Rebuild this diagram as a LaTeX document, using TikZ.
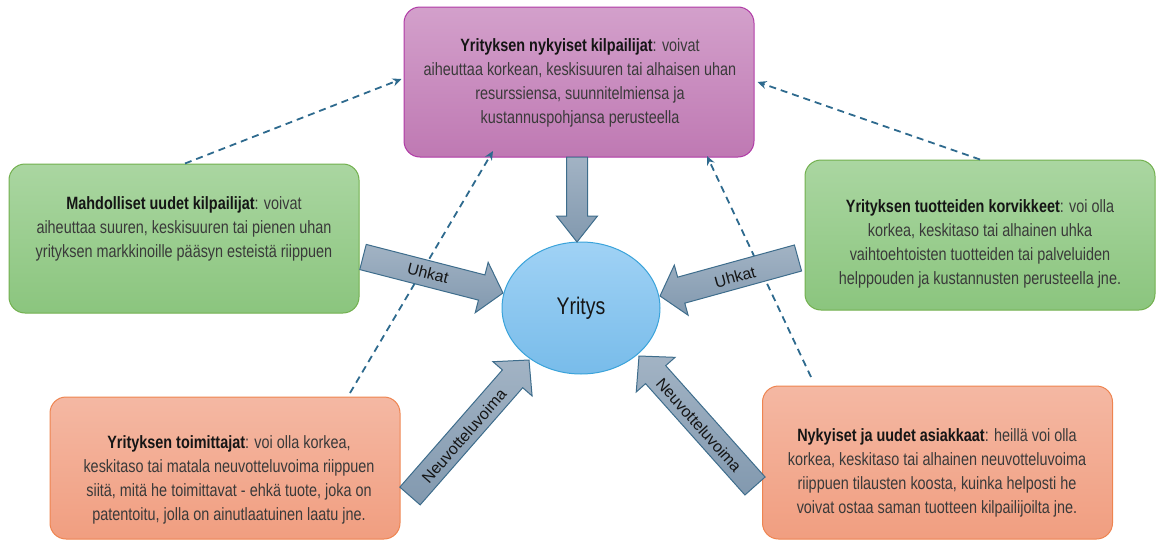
\documentclass[tikz,border=0pt]{standalone}
\usepackage{fontspec}
\setmainfont{Liberation Sans}[FakeStretch=0.81]
\newfontfamily\arrowfont{Liberation Sans}
\usetikzlibrary{calc,shapes.geometric,arrows.meta}
\definecolor{gTop}{HTML}{AAD6A1}
\definecolor{gBot}{HTML}{8BC57E}
\definecolor{gLine}{HTML}{72B04E}
\definecolor{oTop}{HTML}{F4B8A3}
\definecolor{oBot}{HTML}{F19E80}
\definecolor{oLine}{HTML}{EE8450}
\definecolor{pTop}{HTML}{D3A0CB}
\definecolor{pBot}{HTML}{BF79B3}
\definecolor{pLine}{HTML}{B03AA6}
\definecolor{eTop}{HTML}{A0D2F5}
\definecolor{eBot}{HTML}{78BCEA}
\definecolor{eLine}{HTML}{3AA3DA}
\definecolor{aTop}{HTML}{A2B3C4}
\definecolor{aBot}{HTML}{8299AF}
\definecolor{aLine}{HTML}{3E6D8C}
\definecolor{dLine}{HTML}{2E6A8E}
\definecolor{txtGray}{HTML}{3A3A3A}
\definecolor{txtDark}{HTML}{151515}
\newcommand\blockarr[5]{%
  \path[barrow] let \p1=(#1), \p2=(#2), \n1={atan2(\y2-\y1,\x2-\x1)}, \n2={veclen(\x2-\x1,\y2-\y1)} in
    [shift={(\p1)}, rotate=\n1]
    (0,-#3/2) -- ({\n2-#5},-#3/2) -- ({\n2-#5},-#4/2) -- ({\n2},0) -- ({\n2-#5},#4/2) -- ({\n2-#5},#3/2) -- (0,#3/2) -- cycle;}
\begin{document}
\begin{tikzpicture}[x=1pt,y=-1pt,
  box/.style={line width=1pt, rounded corners=16pt, minimum width=350pt, inner sep=0pt},
  gbox/.style={box, draw=gLine, top color=gTop, bottom color=gBot},
  obox/.style={box, draw=oLine, top color=oTop, bottom color=oBot},
  pbox/.style={box, draw=pLine, top color=pTop, bottom color=pBot},
  txt/.style={align=center, text=txtGray, font=\fontsize{17.8}{24}\selectfont, inner sep=0pt},
  barrow/.style={draw=aLine, line width=1pt, top color=aTop, bottom color=aBot},
  alab/.style={font=\arrowfont\fontsize{16}{18}\selectfont, text=txtDark, inner sep=0pt},
  darr/.style={draw=dLine, line width=1.8pt, dash pattern=on 7pt off 5pt, -{Stealth[length=9pt,width=8pt]}}
]
\useasboundingbox (0,0) rectangle (1157,541);
\newcommand\hb[1]{\textcolor{txtDark}{\textbf{#1}}}

% boxes
\node[pbox, minimum height=150pt] (tb) at (579,82) {};
\node[gbox, minimum height=149pt] (lg) at (184,238.5) {};
\node[gbox, minimum height=150pt] (rg) at (980,235) {};
\node[obox, minimum height=142pt] (lo) at (225,468) {};
\node[obox, minimum height=153pt] (ro) at (937.5,462.5) {};

% ellipse
\node[ellipse, draw=eLine, line width=1pt, top color=eTop, bottom color=eBot,
      minimum width=158pt, minimum height=132pt, inner sep=0pt,
      font=\fontsize{24}{26}\selectfont, text=txtDark] (Y) at (581,308) {Yritys};

% texts
\node[txt] (t1) at (580,83) {\hb{Yrityksen nykyiset kilpailijat}: voivat\\aiheuttaa korkean, keskisuuren tai alhaisen uhan\\resurssiensa, suunnitelmiensa ja\\kustannuspohjansa perusteella};
\node[txt] (t2) at (184,229) {\hb{Mahdolliset uudet kilpailijat}: voivat\\aiheuttaa suuren, keskisuuren tai pienen uhan\\yrityksen markkinoille pääsyn esteistä riippuen};
\node[txt] (t3) at (980,244) {\hb{Yrityksen tuotteiden korvikkeet}: voi olla\\korkea, keskitaso tai alhainen uhka\\vaihtoehtoisten tuotteiden tai palveluiden\\helppouden ja kustannusten perusteella jne.};
\node[txt] (t4) at (229,480) {\hb{Yrityksen toimittajat}: voi olla korkea,\\keskitaso tai matala neuvotteluvoima riippuen\\siitä, mitä he toimittavat - ehkä tuote, joka on\\patentoitu, jolla on ainutlaatuinen laatu jne.};
\node[txt] (t5) at (937,473) {\hb{Nykyiset ja uudet asiakkaat}: heillä voi olla\\korkea, keskitaso tai alhainen neuvotteluvoima\\riippuen tilausten koosta, kuinka helposti he\\voivat ostaa saman tuotteen kilpailijoilta jne.};

% dashed connectors
\coordinate (d1s) at ($(lg.north)+(1,0)$);
\coordinate (d1e) at ($(tb.west)+(-2,-3)$);
\coordinate (d2s) at ($(rg.north)+(0,0)$);
\coordinate (d2e) at ($(tb.east)+(3,0)$);
\coordinate (d3s) at (350,393);
\coordinate (d3e) at (493,151);
\coordinate (d4s) at (811,377);
\coordinate (d4e) at (707,156);
\draw[darr] (d1s) -- (d1e);
\draw[darr] (d2s) -- (d2e);
\draw[darr] (d3s) -- (d3e);
\draw[darr] (d4s) -- (d4e);

% block arrows
\coordinate (a0s) at (577,157);
\coordinate (a0e) at (577,242);
\coordinate (a1s) at (363,257);
\coordinate (a1e) at (503,293);
\coordinate (a2s) at (798,258);
\coordinate (a2e) at (660,296);
\coordinate (a3s) at (410,496);
\coordinate (a3e) at (529,360);
\coordinate (a4s) at (755,486);
\coordinate (a4e) at (639,356);
\blockarr{a0s}{a0e}{21}{41}{26}
\blockarr{a1s}{a1e}{26}{52}{22}
\blockarr{a2s}{a2e}{27}{52}{22}
\blockarr{a3s}{a3e}{27}{52}{25}
\blockarr{a4s}{a4e}{27}{52}{25}

\node[alab, rotate=-14.4] (l1) at (428,273) {Uhkat};
\node[alab, rotate=15.4] (l2) at (735,277) {Uhkat};
\node[alab, rotate=48.8] (l3) at (464,436) {Neuvotteluvoima};
\node[alab, rotate=-48.3] (l4) at (699,425) {Neuvotteluvoima};
\end{tikzpicture}
\end{document}
